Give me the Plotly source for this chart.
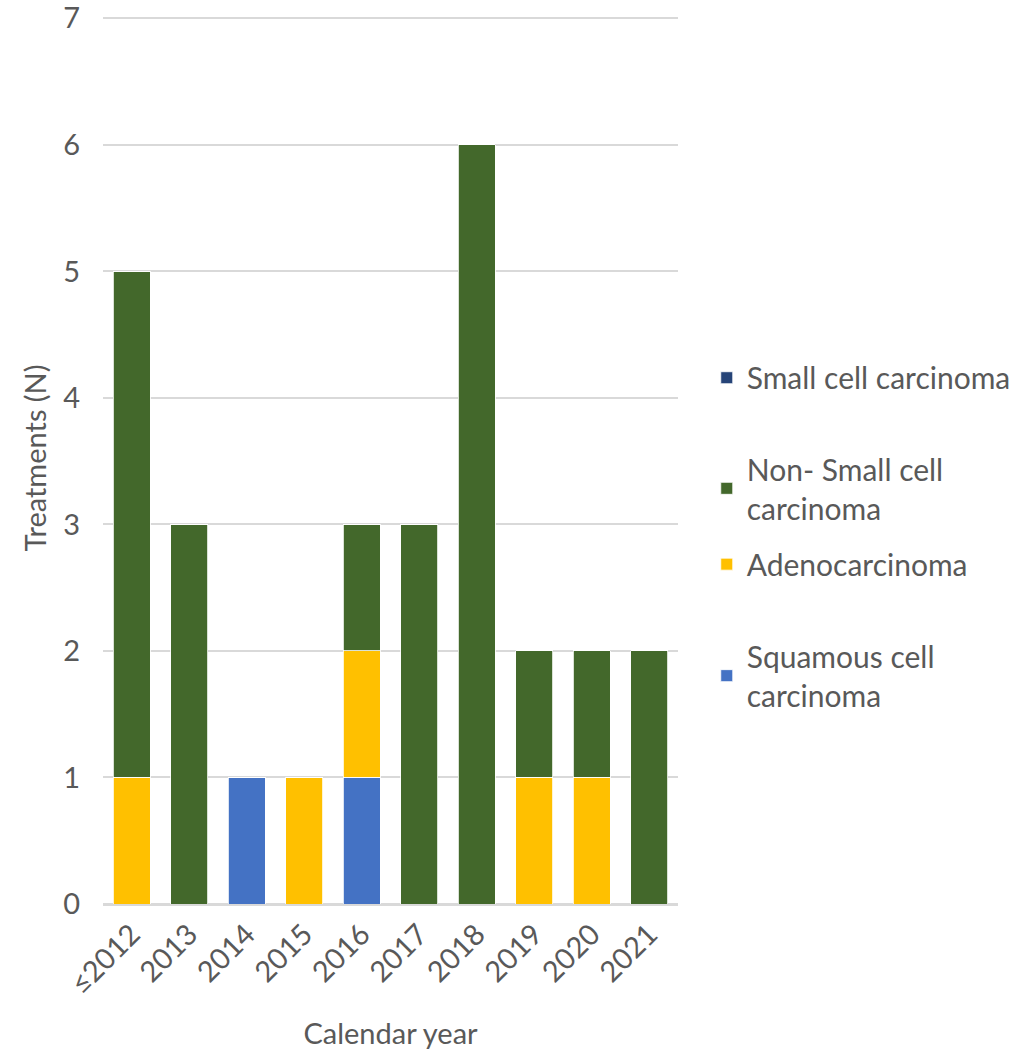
import plotly.graph_objects as go

years = ["≤2012", "2013", "2014", "2015", "2016", "2017", "2018", "2019", "2020", "2021"]
squamous = [0, 0, 1, 0, 1, 0, 0, 0, 0, 0]
adeno = [1, 0, 0, 1, 1, 0, 0, 1, 1, 0]
non_small = [4, 3, 0, 0, 1, 3, 6, 1, 1, 2]
small_cell = [0, 0, 0, 0, 0, 0, 0, 0, 0, 0]

FONT = "Lato"
TXT = "#595959"
FS = 29

series = [
    ("Squamous cell<br>carcinoma", squamous, "#4472C4", "legend4", 0.256),
    ("Adenocarcinoma", adeno, "#FFC000", "legend3", 0.381),
    ("Non- Small cell<br>carcinoma", non_small, "#43682B", "legend2", 0.466),
    ("Small cell carcinoma", small_cell, "#264478", "legend", 0.590),
]

fig = go.Figure()
for name, vals, color, lg, _ in series:
    fig.add_trace(go.Bar(
        x=years, y=vals, name=name, legend=lg,
        marker=dict(color=color, line=dict(color="white", width=0.8)),
    ))

layout_legends = {}
for name, vals, color, lg, ypos in series:
    layout_legends[lg] = dict(
        x=1.05, xanchor="left", y=ypos, yanchor="middle",
        font=dict(family=FONT, size=30, color=TXT),
        bgcolor="rgba(0,0,0,0)",
    )

fig.update_layout(
    width=1025, height=1054,
    margin=dict(l=103, r=347, t=12, b=150, autoexpand=False),
    barmode="stack", bargap=0.36,
    plot_bgcolor="white", paper_bgcolor="white",
    font=dict(family=FONT, size=FS, color=TXT),
    showlegend=True,
    xaxis=dict(
        tickangle=-45, tickfont=dict(size=FS, color=TXT), automargin=False,
        title=dict(text="Calendar year", font=dict(size=FS, color=TXT), standoff=25),
        showline=True, linecolor="#d9d9d9", linewidth=1.5, ticks="",
    ),
    yaxis=dict(
        range=[0, 7.05], tick0=0, dtick=1, ticklabeloverflow="allow",
        tickfont=dict(size=FS, color=TXT), automargin=True,
        title=dict(text="Treatments (N)", font=dict(size=FS, color=TXT), standoff=8),
        showgrid=True, gridcolor="#d9d9d9", gridwidth=1.5,
        zeroline=True, zerolinecolor="#d9d9d9", zerolinewidth=1.5,
        ticks="", ticklabelstandoff=22,
    ),
    **layout_legends,
)

fig.write_html("out.html")
